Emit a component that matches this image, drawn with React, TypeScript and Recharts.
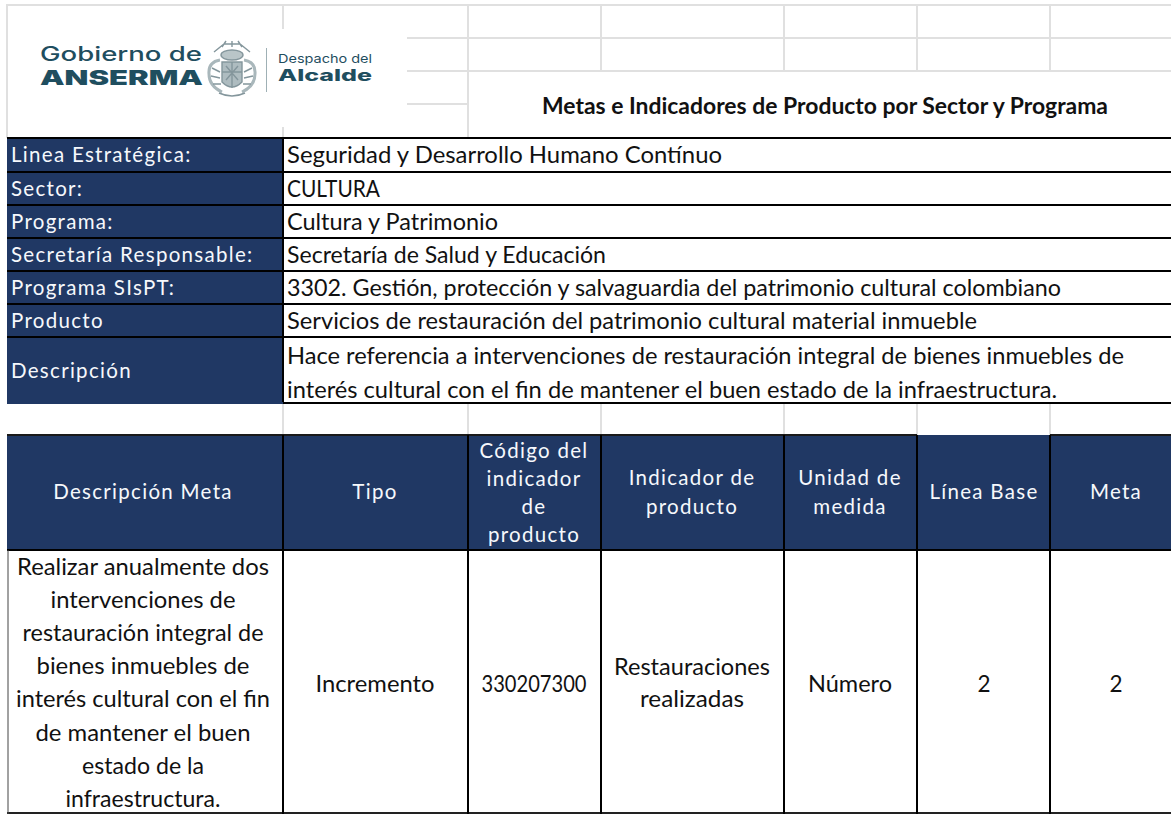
import React from "react";
import { ComposedChart, Line, XAxis, YAxis, ReferenceArea, ReferenceLine, ReferenceDot } from "recharts";

const W = 1171;
const H = 814;
const reportTitle = "Metas e Indicadores de Producto por Sector y Programa";
const infoLabels = ["Linea Estratégica:", "Sector:", "Programa:", "Secretaría Responsable:", "Programa SIsPT:", "Producto"];
const infoValues = [
  "Seguridad y Desarrollo Humano Contínuo",
  "CULTURA",
  "Cultura y Patrimonio",
  "Secretaría de Salud y Educación",
  "3302. Gestión, protección y salvaguardia del patrimonio cultural colombiano",
  "Servicios de restauración del patrimonio cultural material inmueble",
];
const descriptionLabel = "Descripción";
const descriptionLines = [
  "Hace referencia a intervenciones de restauración integral de bienes inmuebles de",
  "interés cultural con el fin de mantener el buen estado de la infraestructura.",
];
const headerCells = [
  ["Descripción Meta"],
  ["Tipo"],
  ["Código del", "indicador", "de", "producto"],
  ["Indicador de", "producto"],
  ["Unidad de", "medida"],
  ["Línea Base"],
  ["Meta"],
];
const bodyCells = [
  ["Realizar anualmente dos", "intervenciones de", "restauración integral de", "bienes inmuebles de", "interés cultural con el fin", "de mantener el buen", "estado de la", "infraestructura."],
  ["Incremento"],
  ["330207300"],
  ["Restauraciones", "realizadas"],
  ["Número"],
  ["2"],
  ["2"],
];

const colEdges = [7, 283, 468, 601, 784, 917, 1050, 1171];
const rowEdges = [138, 172, 205, 238, 271, 304, 337, 403];
const NAVY = "#203864";
const GRID = "#e0e0e0";
const BODY_FONT = "Lato, 'Open Sans', sans-serif";
const LOGO = "#1f4e5f";
const frame = [{ x: 0, y: 0 }, { x: W, y: H }];

const area = (k: string, x1: number, x2: number, y1: number, y2: number, fill: string) => (
  <ReferenceArea key={k} x1={x1} x2={x2} y1={y1} y2={y2} fill={fill} fillOpacity={1} stroke="none" />
);
const hLine = (k: string, x1: number, x2: number, y: number, stroke: string, w: number) => (
  <ReferenceLine key={k} segment={[{ x: x1, y }, { x: x2, y }]} stroke={stroke} strokeWidth={w} />
);
const vLine = (k: string, x: number, y1: number, y2: number, stroke: string, w: number) => (
  <ReferenceLine key={k} segment={[{ x, y: y1 }, { x, y: y2 }]} stroke={stroke} strokeWidth={w} />
);

const txt = (k: string, x: number, y: number, s: string, style: any) => (
  <ReferenceDot key={k} x={x} y={y} r={0} shape={(p: any) => <text x={p.cx} y={p.cy} {...style}>{s}</text>} />
);
const label = (k: string, x: number, y: number, s: string, anchor = "start") =>
  txt(k, x, y, s, { fill: "#f6f8fc", fontFamily: BODY_FONT, fontSize: 20.5, letterSpacing: 1.3, textAnchor: anchor });
const cell = (k: string, x: number, y: number, s: string, width?: number, anchor = "start") =>
  txt(k, x, y, s, { fill: "#111", fontFamily: BODY_FONT, fontSize: 22.5, textAnchor: anchor, ...(width ? { textLength: width, lengthAdjust: "spacingAndGlyphs" } : {}) });

const headerY = [[499], [499], [458, 486, 514, 542], [485, 514], [485, 514], [499], [499]];
const bodyY = [[575, 608, 641, 674, 707, 741, 774, 807], [692], [692], [675, 707], [692], [692], [692]];
const colCenter = [143, 375, 534, 692, 850, 984, 1116];
const infoWidths = [435, 93, 211, 319, 774, 690];
const descWidths = [837, 770];
const bodyWidths = [[252, 185, 241, 213, 254, 215, 122, 155], [119], [105], [156, 104], [84], [0], [0]];

export default function App() {
  document.body.style.margin = "0";
  const grayCols = colEdges.slice(1, 7);
  return (
    <div style={{ width: W, height: H, background: "#fff", overflow: "hidden" }}>
      <ComposedChart width={W} height={H} margin={{ top: 0, right: 0, bottom: 0, left: 0 }} data={frame}>
        <XAxis type="number" dataKey="x" domain={[0, W]} hide />
        <YAxis type="number" domain={[0, H]} reversed hide />
        <Line dataKey="y" stroke="none" dot={false} isAnimationActive={false} />

        {hLine("gt", 6, W, 5, GRID, 2)}
        {hLine("g38", 407, W, 38, GRID, 2)}
        {hLine("g71", 407, W, 71, GRID, 2)}
        {hLine("g104", 407, 468, 104, GRID, 2)}
        {vLine("gl", 7, 5, 138, GRID, 2)}
        {vLine("g283a", 283, 5, 29, GRID, 2)}
        {vLine("g283b", 283, 127, 138, GRID, 2)}
        {vLine("g468", 468, 5, 138, GRID, 2)}
        {grayCols.slice(2).map((x, i) => vLine(`gv${i}`, x, 5, 72, GRID, 2))}
        {grayCols.map((x, i) => vLine(`gg${i}`, x, 403, 435, GRID, 2))}

        {area("navyInfo", 7, 283, 138, 403, NAVY)}
        {rowEdges.map((y, i) => hLine(`r${i}`, 7, W, y, "#000", 2))}
        {vLine("rv", 283, 138, 403, "#000", 2)}
        {hLine("rhGap", 7, 283, 403, NAVY, 2)}

        {area("navyHead", 7, W, 435, 550, NAVY)}
        {hLine("h1", 7, 917, 435, "#1a1a1a", 2)}
        {hLine("h1b", 1050, W, 435, "#1a1a1a", 2)}
        {hLine("h2", 7, W, 550, "#000", 2)}
        {hLine("h3", 7, W, 813, "#222", 2)}
        {colEdges.slice(1, 7).map((x, i) => vLine(`c${i}`, x, 435, 814, "#000", 2))}
        {vLine("cl", 8, 550, 814, "#444", 1)}

        <text x={40} y={61} fill={LOGO} fontFamily="Inter, sans-serif" fontSize={19.5} fontWeight={500} textLength={162} lengthAdjust="spacingAndGlyphs">Gobierno de</text>
        <text x={40} y={85} fill={LOGO} fontFamily="Inter, sans-serif" fontSize={20} fontWeight={900} textLength={163} lengthAdjust="spacingAndGlyphs">ANSERMA</text>
        <g stroke="#84969c" fill="none" strokeWidth={1.4}>
          <path d="M214 52 L224 44 L240 44 L250 52 M222 47 L226 41 M232 47 V41 M242 47 L238 41" />
          <ellipse cx={232} cy={55} rx={11} ry={5} fill="#b9c5c8" />
          <path d="M222 62 H242 V82 Q232 92 222 82 Z" fill="#aebcc0" />
          <path d="M232 62 V88 M222 72 H242 M226 66 L238 80 M238 66 L226 80" />
          <path d="M220 60 Q208 62 209 74 Q209 86 222 92 M244 60 Q256 62 255 74 Q255 86 242 92" strokeWidth={3} stroke="#a9b7bb" />
          <path d="M212 68 L220 72 M211 76 L220 78 M213 84 L221 84 M252 68 L244 72 M253 76 L244 78 M251 84 L243 84" />
          <path d="M219 93 Q232 99 245 93" />
        </g>
        <rect x={266} y={48} width={1} height={44} fill="#9fb0b5" />
        <text x={278} y={63} fill={LOGO} fontFamily="Inter, sans-serif" fontSize={12} textLength={94} lengthAdjust="spacingAndGlyphs">Despacho del</text>
        <text x={278} y={81} fill={LOGO} fontFamily="Inter, sans-serif" fontSize={16} fontWeight={800} textLength={94} lengthAdjust="spacingAndGlyphs">Alcalde</text>

        {txt("title", 825, 114, reportTitle, { textAnchor: "middle", fill: "#111", fontFamily: BODY_FONT, fontSize: 22.8, fontWeight: 700, textLength: 566, lengthAdjust: "spacingAndGlyphs" })}

        {infoLabels.map((s, i) => label(`il${i}`, 11, (rowEdges[i] + rowEdges[i + 1]) / 2 + 7, s))}
        {infoValues.map((s, i) => cell(`iv${i}`, 287, (rowEdges[i] + rowEdges[i + 1]) / 2 + 8, s, infoWidths[i]))}
        {label("dl", 11, 378, descriptionLabel)}
        {descriptionLines.map((s, i) => cell(`dv${i}`, 287, [364, 398][i], s, descWidths[i]))}

        {headerCells.map((lines, c) => lines.map((s, i) => label(`h${c}-${i}`, colCenter[c], headerY[c][i], s, "middle")))}
        {bodyCells.map((lines, c) => lines.map((s, i) => cell(`b${c}-${i}`, colCenter[c], bodyY[c][i], s, bodyWidths[c][i], "middle")))}
      </ComposedChart>
    </div>
  );
}
